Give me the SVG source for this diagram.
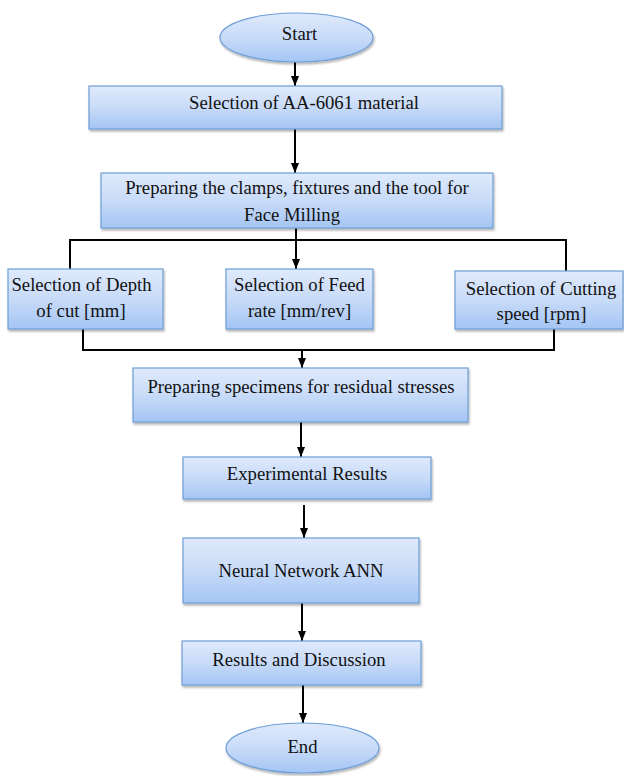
<svg xmlns="http://www.w3.org/2000/svg" width="624" height="776" viewBox="0 0 624 776">
<defs>
<linearGradient id="g" x1="0" y1="0" x2="0" y2="1">
<stop offset="0" stop-color="#dfeafc"/>
<stop offset="0.5" stop-color="#c8dbf8"/>
<stop offset="1" stop-color="#a4c5f4"/>
</linearGradient>
<filter id="sh" x="-10%" y="-10%" width="120%" height="130%">
<feDropShadow dx="1" dy="2" stdDeviation="1.2" flood-color="#000" flood-opacity="0.3"/>
</filter>
<marker id="ah" markerWidth="10" markerHeight="10" viewBox="0 0 10 10" refX="10" refY="5" orient="auto" markerUnits="userSpaceOnUse">
<path d="M0,1 L10,5 L0,9 Z" fill="#000"/>
</marker>
</defs>
<style>
.n{fill:url(#g);stroke:#6e9ed6;stroke-width:1.2;filter:url(#sh)}
.t{font-family:"Liberation Serif","Times New Roman","DejaVu Serif",serif;font-size:18.7px;fill:#111;text-anchor:middle}
.c{fill:none;stroke:#000;stroke-width:2}
.a{marker-end:url(#ah)}
</style>
<rect width="624" height="776" fill="#fff"/>
<g id="connectors">
<line class="c a" x1="295" y1="62" x2="295" y2="86"/>
<line class="c a" x1="295" y1="129" x2="295" y2="173"/>
<line class="c a" x1="296" y1="228" x2="296" y2="269"/>
<polyline class="c" points="70,269 70,240 566,240 566,271"/>
<polyline class="c" points="83,329 83,350 554,350 554,329"/>
<line class="c a" x1="302" y1="350" x2="302" y2="368"/>
<line class="c a" x1="301" y1="422" x2="301" y2="457"/>
<line class="c a" x1="304" y1="505" x2="304" y2="538"/>
<line class="c a" x1="302" y1="603" x2="302" y2="641"/>
<line class="c a" x1="303" y1="685" x2="303" y2="723"/>
</g>
<g id="start">
<ellipse class="n" cx="296.5" cy="37.5" rx="76.5" ry="24.5"/>
<text class="t" x="299.5" y="39.5">Start</text>
</g>
<g id="material">
<rect class="n" x="89" y="86" width="413" height="43"/>
<text class="t" x="304" y="109">Selection of AA-6061 material</text>
</g>
<g id="prepare">
<rect class="n" x="101" y="173" width="392" height="55"/>
<text class="t" x="297" y="194">Preparing the clamps, fixtures and the tool for</text>
<text class="t" x="292" y="221">Face Milling</text>
</g>
<g id="depth">
<rect class="n" x="8" y="269" width="155" height="60"/>
<text class="t" x="81.5" y="291">Selection of Depth</text>
<text class="t" x="81" y="317">of cut [mm]</text>
</g>
<g id="feed">
<rect class="n" x="226" y="269" width="147" height="60"/>
<text class="t" x="299.5" y="291">Selection of Feed</text>
<text class="t" x="299.5" y="317">rate [mm/rev]</text>
</g>
<g id="speed">
<rect class="n" x="455" y="271" width="168" height="58"/>
<text class="t" x="541" y="295">Selection of Cutting</text>
<text class="t" x="541.5" y="320">speed [rpm]</text>
</g>
<g id="specimens">
<rect class="n" x="133" y="368" width="335" height="54"/>
<text class="t" x="301" y="393">Preparing specimens for residual stresses</text>
</g>
<g id="experimental">
<rect class="n" x="183" y="457" width="248" height="42"/>
<text class="t" x="307" y="480">Experimental Results</text>
</g>
<g id="neural">
<rect class="n" x="183" y="538" width="236" height="65"/>
<text class="t" x="301" y="577">Neural Network ANN</text>
</g>
<g id="results">
<rect class="n" x="182" y="641" width="239" height="44"/>
<text class="t" x="299" y="666">Results and Discussion</text>
</g>
<g id="end">
<ellipse class="n" cx="302.5" cy="748" rx="76.5" ry="25"/>
<text class="t" x="302.5" y="753">End</text>
</g>
</svg>
